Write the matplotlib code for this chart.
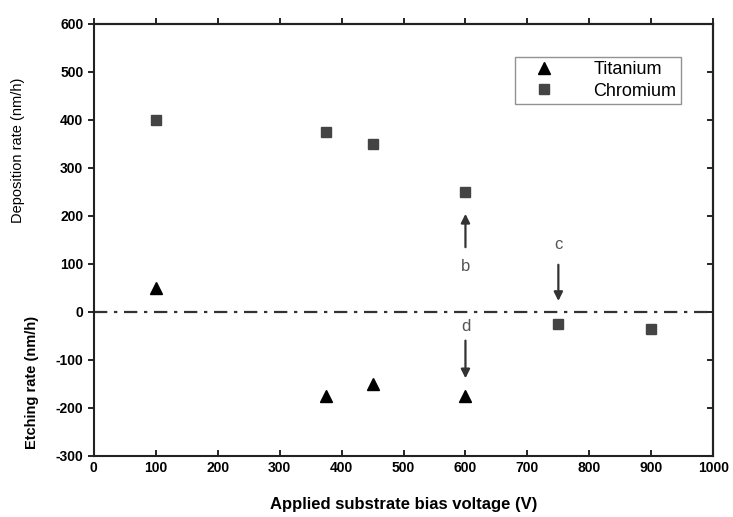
import matplotlib.pyplot as plt

plt.rcParams['font.family'] = ['Liberation Sans', 'DejaVu Sans']
plt.rcParams['axes.unicode_minus'] = False

# data
ti_voltage = [100, 375, 450, 600]
ti_rate = [50, -175, -150, -175]
cr_voltage = [100, 375, 450, 600, 750, 900]
cr_rate = [400, 375, 350, 250, -25, -35]

x_ticks = list(range(0, 1001, 100))
y_ticks = list(range(-300, 601, 100))

fig = plt.figure(figsize=(7.33, 5.17), dpi=100)
ax = fig.add_axes([0.128, 0.118, 0.845, 0.836])

ax.axhline(0, color='#333333', lw=1.6, ls=(0, (6, 3, 1.5, 3)), zorder=1)

ax.plot(ti_voltage, ti_rate, ls='none', marker='^', ms=9, color='black', label='Titanium')
ax.plot(cr_voltage, cr_rate, ls='none', marker='s', ms=7, color='#444444', label='Chromium')

# annotation arrows
arrow = dict(arrowstyle='-|>', color='#333333', lw=1.6, mutation_scale=13)
ax.annotate('', xy=(600, 210), xytext=(600, 129), arrowprops=arrow)
ax.text(600, 94, 'b', ha='center', va='center', fontsize=12, color='#555555')
ax.annotate('', xy=(750, 17), xytext=(750, 104), arrowprops=arrow)
ax.text(750, 140, 'c', ha='center', va='center', fontsize=12, color='#555555')
ax.annotate('', xy=(600, -144), xytext=(600, -54), arrowprops=arrow)
ax.text(600, -31, 'd', ha='center', va='center', fontsize=12, color='#555555')

ax.set_xlim(0, 1000)
ax.set_ylim(-300, 600)
ax.set_xticks(x_ticks)
ax.set_yticks(y_ticks)
ax.tick_params(axis='x', direction='in', length=4, width=1.2, labelsize=10)
ax.tick_params(axis='y', direction='out', length=4, width=1.2, labelsize=10)
for lab in ax.get_xticklabels() + ax.get_yticklabels():
    lab.set_fontweight('bold')
for sp in ax.spines.values():
    sp.set_linewidth(1.5)
    sp.set_color('#222222')

# top ticks point out, right ticks point in
top = ax.secondary_xaxis('top')
top.set_xticks(x_ticks)
top.tick_params(direction='out', length=4, width=1.2, labeltop=False)
top.spines['top'].set_linewidth(1.5)
right = ax.secondary_yaxis('right')
right.set_yticks(y_ticks)
right.tick_params(direction='in', length=4, width=1.2, labelright=False)
right.spines['right'].set_linewidth(1.5)

ax.set_xlabel('Applied substrate bias voltage (V)', fontsize=12, fontweight='bold', labelpad=16)
fig.text(0.025, 0.71, 'Deposition rate (nm/h)', rotation=90, ha='center', va='center', fontsize=10.5)
fig.text(0.044, 0.26, 'Etching rate (nm/h)', rotation=90, ha='center', va='center', fontsize=10.5,
         fontweight='bold')

leg = ax.legend(loc='upper right', bbox_to_anchor=(0.962, 0.945), fontsize=13, frameon=True,
                fancybox=False, edgecolor='#777777', handletextpad=1.3, borderpad=0.25,
                labelspacing=0.25, handlelength=2.8)
leg.get_frame().set_linewidth(1.0)

fig.savefig('out.png', dpi=100)
